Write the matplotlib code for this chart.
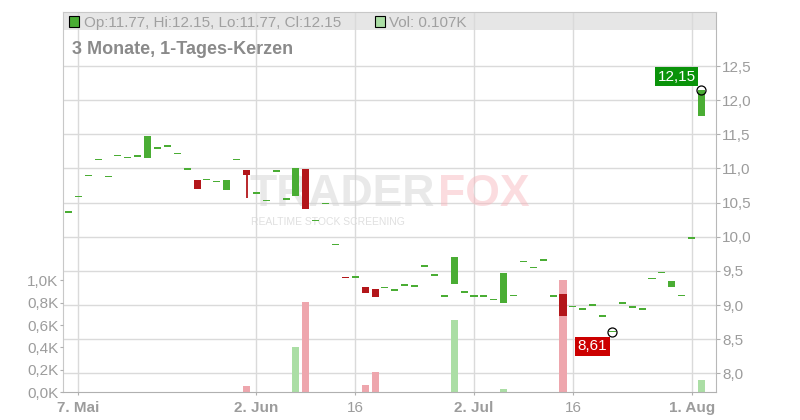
import numpy as np
import pandas as pd
import matplotlib
matplotlib.use("Agg")
import matplotlib.pyplot as plt
from matplotlib.patches import Rectangle

plt.rcParams['font.family'] = ['Liberation Sans', 'DejaVu Sans']

# trading days, 6 May - 4 Aug 2025
days = pd.bdate_range('2025-05-06', '2025-08-04')

opens = [10.36, 10.59, 10.90, 11.13, 10.88, 11.19, 11.16, 11.18, 11.15, 11.30,
         11.33, 11.22, 10.99, 10.83, 10.84, 10.81, 10.69, 11.13, 10.98, 10.64,
         10.53, 10.96, 10.55, 10.59, 10.99, 10.24, 10.49, 9.89, 9.41, 9.41,
         9.26, 9.24, 9.26, 9.22, 9.29, 9.28, 9.57, 9.44, 9.13, 9.31,
         9.19, 9.13, 9.13, 9.08, 9.03, 9.14, 9.64, 9.55, 9.66, 9.13,
         9.16, 8.98, 8.94, 9.00, 8.84, 8.61, 9.03, 8.97, 8.94, 9.39,
         9.48, 9.26, 9.14, 9.98, 11.77]
closes = [10.36, 10.59, 10.90, 11.13, 10.88, 11.19, 11.16, 11.18, 11.47, 11.30,
          11.33, 11.22, 10.99, 10.70, 10.84, 10.81, 10.83, 11.13, 10.91, 10.64,
          10.53, 10.96, 10.55, 11.01, 10.40, 10.24, 10.49, 9.89, 9.40, 9.41,
          9.18, 9.12, 9.26, 9.22, 9.29, 9.28, 9.57, 9.44, 9.13, 9.70,
          9.19, 9.13, 9.13, 9.08, 9.47, 9.14, 9.64, 9.55, 9.66, 9.13,
          8.84, 8.98, 8.94, 9.00, 8.84, 8.61, 9.03, 8.97, 8.94, 9.39,
          9.48, 9.35, 9.14, 9.98, 12.15]
wick_lows = {18: 10.57}
vols = [0, 0, 0, 0, 0, 0, 0, 0, 0, 0,
        0, 0, 0, 0, 0, 0, 0, 0, 0.056, 0,
        0, 0, 0, 0.40, 0.806, 0, 0, 0, 0, 0,
        0.065, 0.18, 0, 0, 0, 0, 0, 0, 0, 0.645,
        0, 0, 0, 0, 0.03, 0, 0, 0, 0, 0,
        1.0, 0, 0, 0, 0, 0, 0, 0, 0, 0,
        0, 0, 0, 0, 0.107]

tick_dates = ['2025-05-07', '2025-06-02', '2025-06-16', '2025-07-02', '2025-07-16', '2025-08-01']
tick_labels = ['7. Mai', '2. Jun', '16', '2. Jul', '16', '1. Aug']
price_ticks = [8.0, 8.5, 9.0, 9.5, 10.0, 10.5, 11.0, 11.5, 12.0, 12.5]
vol_ticks = [0.0, 0.2, 0.4, 0.6, 0.8, 1.0]

GREEN = '#4aad34'
RED = '#b3161a'
VGREEN = '#abdea5'
VRED = '#eea6ad'
GRID = '#dadada'
TXT = '#9c9c9c'

W, H = 800, 420
fig = plt.figure(figsize=(W / 100, H / 100), dpi=100)
L, R, T, B = 63, 716, 12, 392
ax = fig.add_axes([L / W, 1 - B / H, (R - L) / W, (B - T) / H])
axv = ax.twinx()

x = np.arange(len(days))
o = np.array(opens)
c = np.array(closes)
up = c >= o

# volume (drawn in the volume axis scale, under the candles)
ax.bar(x, vols, width=0.71, color=[VGREEN if u else VRED for u in up],
       transform=axv.transData, zorder=1)

# candles
minh = 0.022
body_lo = np.minimum(o, c)
body_h = np.abs(c - o)
pad = np.where(body_h < minh, (minh - body_h) / 2, 0)
ccol = [GREEN if u else RED for u in up]
for i, lo in wick_lows.items():
    ax.vlines(i, lo, max(o[i], c[i]), color=ccol[i], lw=1.3, zorder=2)
ax.bar(x, np.maximum(body_h, minh), bottom=body_lo - pad, width=0.71,
       color=ccol, zorder=3)

# price axis scale: 68.3 px per unit, 12.5 at y=66
ax.set_ylim(12.5 - (B - 66) / 68.3, 12.5 + (66 - T) / 68.3)
ax.set_xlim((L - 68.5) / 9.89, (R - 68.5) / 9.89)
axv.set_ylim(0, (B - T) / 111.6)

ax.set_yticks(price_ticks)
ax.set_yticklabels([f"{v:.1f}".replace('.', ',') for v in price_ticks])
ax.yaxis.tick_right()
axv.set_yticks(vol_ticks)
axv.set_yticklabels([f"{v:.1f}".replace('.', ',') + 'K' for v in vol_ticks])
axv.yaxis.tick_left()

tpos = [days.get_loc(pd.Timestamp(d)) for d in tick_dates]
ax.set_xticks(tpos)
ax.set_xticklabels(tick_labels)
for lab, t in zip(ax.get_xticklabels(), tick_labels):
    if not t.isdigit():
        lab.set_fontweight('bold')

ax.grid(True, color=GRID, lw=1)
ax.set_axisbelow(True)
ax.tick_params(axis='y', colors=TXT, labelsize=11, length=3, pad=1.5, labelcolor=TXT)
ax.tick_params(axis='y', color='#b0b0b0')
axv.tick_params(axis='y', colors=TXT, labelsize=11, length=2.5, pad=1, labelcolor=TXT)
axv.tick_params(axis='y', color='#b0b0b0')
ax.tick_params(axis='x', color='#b0b0b0', labelcolor=TXT, labelsize=11, length=2.5, pad=4)

for s in axv.spines.values():
    s.set_visible(False)
ax.spines['top'].set_color('#c8c8c8')
ax.spines['left'].set_color('#c8c8c8')
ax.spines['right'].set_color('#b8b8b8')
ax.spines['bottom'].set_color('#b0b0b0')

# header band
ax.add_patch(Rectangle((0, 1 - 18 / (B - T)), 1, 18 / (B - T), transform=ax.transAxes,
                       fc='#e6e6e6', ec='none', zorder=0.3))

def fx(px):
    return px / W

def fy(py):
    return 1 - py / H

fig.patches.append(Rectangle((fx(69), fy(26.5)), 10 / W, 10 / H, transform=fig.transFigure,
                             fc=GREEN, ec='black', lw=0.8, zorder=5))
fig.patches.append(Rectangle((fx(375), fy(26.5)), 10 / W, 10 / H, transform=fig.transFigure,
                             fc=VGREEN, ec='black', lw=0.8, zorder=5))
last = len(days) - 1
fig.text(fx(84), fy(27), f"Op:{opens[last]:.2f}, Hi:{closes[last]:.2f}, "
         f"Lo:{opens[last]:.2f}, Cl:{closes[last]:.2f}", color='#a0a0a0', fontsize=11,
         va='baseline')
fig.text(fx(389), fy(27), f"Vol: {vols[last]:.3f}K", color='#a0a0a0', fontsize=11,
         va='baseline')
fig.text(fx(72.5), fy(54.3), "3 Monate, 1-Tages-Kerzen", color='#8a8a8a', fontsize=13,
         fontweight='bold', va='baseline')

# watermark, behind the candles
ax.text(fx(249), fy(206), "TRADER", color='#d4d4d4', alpha=0.5, fontsize=32,
        fontweight='bold', va='baseline', zorder=0.6, transform=fig.transFigure)
ax.text(fx(438), fy(206), "FOX", color='#f7b3ba', alpha=0.45, fontsize=32,
        fontweight='bold', va='baseline', zorder=0.6, transform=fig.transFigure)
ax.text(fx(251), fy(225), "REALTIME STOCK SCREENING", color='#d8d8d8', alpha=0.8,
        fontsize=7.5, va='baseline', zorder=0.6, transform=fig.transFigure)

# min / last markers
imin = int(np.argmin(c))
for i, col, off in [(imin, '#cc0000', (-14.5, -10.5)), (last, '#0a930a', (-18, 9.5))]:
    ax.plot(i, c[i], 'o', ms=6.5, mfc='none', mec='black', mew=0.9, zorder=6)
    ax.annotate(f"{c[i]:.2f}".replace('.', ','), (i, c[i]), xytext=off,
                textcoords='offset points', ha='center', va='center', color='white',
                fontsize=11, zorder=7,
                bbox=dict(boxstyle='square,pad=0.18', fc=col, ec='none'))

fig.savefig('out.png', dpi=100)
